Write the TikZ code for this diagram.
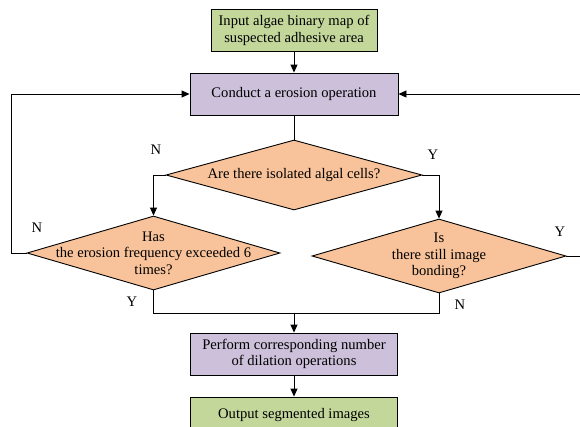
\documentclass[tikz,border=0pt]{standalone}
\usepackage{fontspec}
\setmainfont{Liberation Serif}
\usetikzlibrary{shapes.geometric,arrows.meta}
\definecolor{boxgreen}{RGB}{196,215,155}
\definecolor{boxpurple}{RGB}{204,192,218}
\definecolor{decorange}{RGB}{248,195,154}
\begin{document}
\begin{tikzpicture}[x=1pt,y=-1pt,
  every node/.style={font=\fontsize{14.6}{16.5}\selectfont},
  procbox/.style={draw,line width=0.9pt,inner sep=0pt,align=center},
  decision/.style={draw,line width=0.9pt,diamond,inner sep=0pt,fill=decorange},
  flow/.style={line width=0.9pt,-{Triangle[length=8pt,width=7pt]}},
  link/.style={line width=0.9pt},
  lbl/.style={inner sep=0pt}]
\useasboundingbox (0,0) rectangle (580,426);
\clip (0,0) rectangle (580,426);

% process boxes
\node[procbox,fill=boxgreen,minimum width=166pt,minimum height=42pt] (input) at (294,30.5)
  {Input algae binary map of\\suspected adhesive area};
\node[procbox,fill=boxpurple,minimum width=208pt,minimum height=42pt] (erode) at (294,94)
  {Conduct a erosion operation};
\node[procbox,fill=boxpurple,minimum width=207pt,minimum height=42pt] (dilate) at (294,354)
  {Perform corresponding number\\of dilation operations};
\node[procbox,fill=boxgreen,minimum width=207pt,minimum height=36pt] (output) at (294,415)
  {Output segmented images};

% decisions
\node[decision,minimum width=256pt,minimum height=70pt] (isolated) at (294,175) {};
\node[align=center] at (isolated.center) {Are there isolated algal cells?};
\node[decision,minimum width=253pt,minimum height=74pt] (count) at (153.5,253) {};
\node[align=center] at (count.center) {Has\\the erosion frequency exceeded 6\\times?};
\node[decision,minimum width=254pt,minimum height=74pt] (bond) at (439,256) {};
\node[align=center] at (bond.center) {Is\\there still image\\bonding?};

% helper points
\coordinate (join) at (294,313);
\coordinate (leftrail) at (11,0);
\coordinate (rightrail) at (590,0);

% connectors
\draw[flow] (input) -- (erode);
\draw[link] (erode.south) -- (isolated.north);
\draw[flow] (isolated.west) -| (count.north);
\draw[flow] (isolated.east) -| (bond.north);
\draw[flow] (count.west) -- (count.west -| leftrail) |- (erode.west);
\draw[flow] (bond.east) -- (bond.east -| rightrail) |- (erode.east);
\draw[link] (count.south) |- (join);
\draw[link] (bond.south) |- (join);
\draw[flow] (join) -- (dilate.north);
\draw[flow] (dilate) -- (output);

% branch labels
\node[lbl] at (156,150) {N};
\node[lbl] at (37,228) {N};
\node[lbl] at (132,302) {Y};
\node[lbl] at (433,155) {Y};
\node[lbl] at (560,232) {Y};
\node[lbl] at (460,305) {N};
\end{tikzpicture}
\end{document}
